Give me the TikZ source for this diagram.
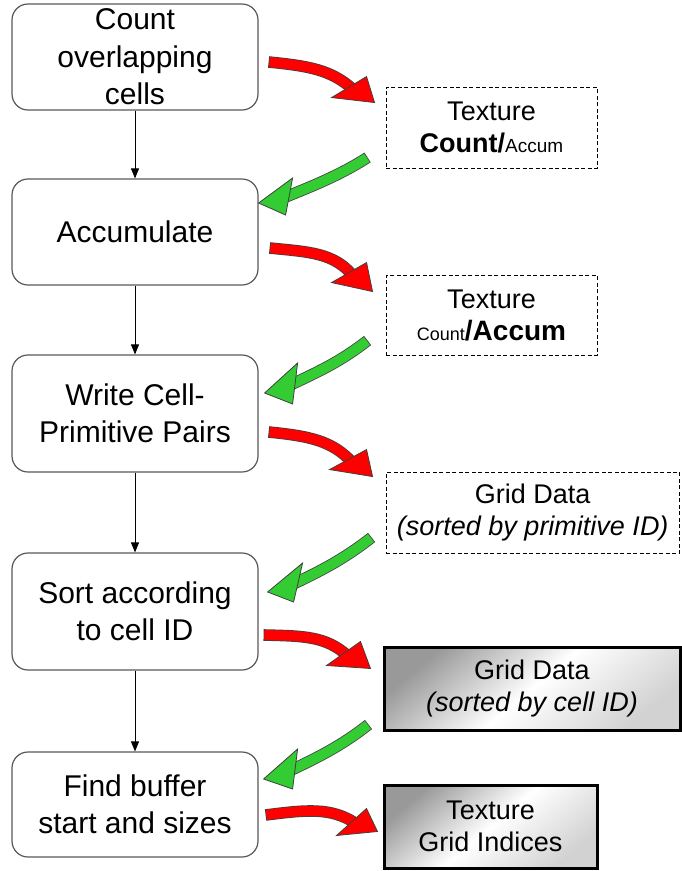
\documentclass[tikz,border=0pt]{standalone}
\usepackage{fontspec}
\setmainfont{Liberation Sans}
\usetikzlibrary{arrows.meta,calc}
\definecolor{agreen}{RGB}{51,204,51}
\definecolor{aline}{RGB}{64,64,64}
% #1 fill colour, #2 tail point, #3 tail control offset, #4 tip point,
% #5 first barb offset from tip, #6 second barb offset from tip, #7 shaft end control offset
\newcommand\blockarrow[7]{%
  \path #4 coordinate (tp)
        ($(tp)+#5$) coordinate (b1)
        ($(tp)+#6$) coordinate (b2)
        ($(b1)!0.5!(b2)$) coordinate (hb)
        ($(hb)!5pt!(tp)$) coordinate (he);
  \draw[draw=aline, line width=11.6pt] #2 .. controls +#3 and +#7 .. (he);
  \draw[draw=#1, line width=10pt, shorten <=0.8pt] #2 .. controls +#3 and +#7 .. (he);
  \draw[fill=#1, draw=aline, line width=0.8pt, line join=miter] (tp) -- (b1) -- (b2) -- cycle;
}
\begin{document}
\begin{tikzpicture}[x=1pt,y=-1pt,
  proc/.style={draw=black!65, line width=1.2pt, rounded corners=16pt, fill=white,
    minimum width=246pt, inner sep=0pt, align=center, font=\fontsize{30}{37.5}\selectfont},
  dbox/.style={draw=black, line width=0.9pt, dash pattern=on 4pt off 2.5pt, fill=white,
    inner sep=0pt, align=center, font=\fontsize{27}{32}\selectfont},
  gbox/.style={draw=black, line width=3pt, top color=gray!80, bottom color=gray!35,
    middle color=white, shading angle=40, inner sep=0pt, align=center,
    font=\fontsize{27}{32}\selectfont},
  flow/.style={-{Triangle[length=10pt,width=8pt]}, line width=0.9pt, black},
]
\useasboundingbox (0,0) rectangle (681,871);

% process boxes
\node[proc, minimum height=106pt] (c1) at (135,57) {Count\\overlapping\\cells};
\node[proc, minimum height=106pt] (c2) at (135,232) {Accumulate};
\node[proc, minimum height=117pt] (c3) at (135,413.5) {Write Cell-\\Primitive Pairs};
\node[proc, minimum height=117pt] (c4) at (135,611.5) {Sort according\\to cell ID};
\node[proc, minimum height=105pt] (c5) at (135,804.5) {Find buffer\\start and sizes};

% data boxes
\node[dbox, minimum width=211pt, minimum height=81pt] (tA) at (491.5,127.5)
  {Texture\\\textbf{Count/}{\fontsize{19}{19}\selectfont Accum}};
\node[dbox, minimum width=211pt, minimum height=80pt] (tB) at (491.5,315)
  {Texture\\{\fontsize{18}{18}\selectfont Count}{\fontsize{28}{32}\selectfont\textbf{/Accum}}};
\node[dbox, minimum width=293.5pt, minimum height=81pt] (tC) at (532.75,512.5)
  {Grid Data\\\textit{(sorted by primitive ID)}};
\node[gbox, minimum width=296pt, minimum height=83pt] (tD) at (532,688.5)
  {Grid Data\\\textit{(sorted by cell ID)}};
\node[gbox, minimum width=213pt, minimum height=83pt] (tE) at (490.5,826.5)
  {Texture\\Grid Indices};

% flow arrows
\draw[flow] (c1.south) -- (c2.north);
\draw[flow] (c2.south) -- (c3.north);
\draw[flow] (c3.south) -- (c4.north);
\draw[flow] (c4.south) -- (c5.north);

% red block arrows (write)
\blockarrow{red}{($(c1.east)+(10,5)$)}{(40,4)}{($(tA.north west)+(-11,16)$)}{(-8,-26)}{(-43,-5)}{(-22,-20)}
\blockarrow{red}{($(c2.east)+(11,16)$)}{(40,4)}{($(tB.north west)+(-13,17)$)}{(-6,-29)}{(-41,-9)}{(-19,-23)}
\blockarrow{red}{($(c3.east)+(10,18.5)$)}{(40,4)}{($(tC.north west)+(-13,5)$)}{(-6,-27)}{(-43,-7)}{(-20,-22)}
\blockarrow{red}{($(c4.east)+(5,23.5)$)}{(40,1)}{($(tD.north west)+(-12,23)$)}{(-10,-27)}{(-44,-3)}{(-22,-20)}
\blockarrow{red}{($(c5.east)+(7,10.5)$)}{(40,-5)}{($(tE.north west)+(-5,48)$)}{(-11,-23)}{(-41,4)}{(-25,-17)}

% green block arrows (read)
\blockarrow{agreen}{($(tA.south west)+(-18,-11)$)}{(-28,18)}{($(c2.east)+(0,-29)$)}{(34,-25)}{(27,12)}{(27,-11)}
\blockarrow{agreen}{($(tB.south west)+(-18,-15)$)}{(-28,22)}{($(c3.east)+(6,-20.5)$)}{(33,-30)}{(28,11)}{(27,-13)}
\blockarrow{agreen}{($(tC.south west)+(-14,-16)$)}{(-28,22)}{($(c4.east)+(9,-19.5)$)}{(35,-29)}{(26,10)}{(27,-13)}
\blockarrow{agreen}{($(tD.south west)+(-14,-7)$)}{(-28,22)}{($(c5.east)+(5,-25.5)$)}{(34,-30)}{(29,10)}{(27,-13)}
\end{tikzpicture}
\end{document}
